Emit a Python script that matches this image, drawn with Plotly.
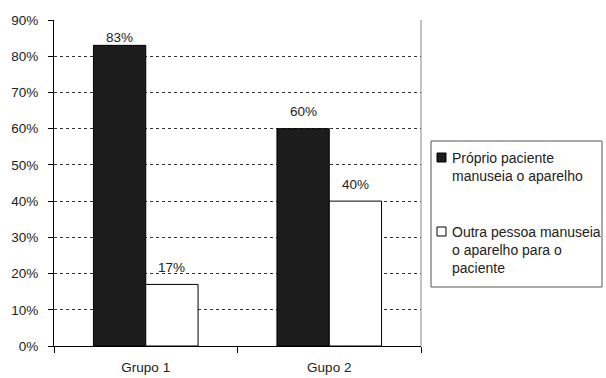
import plotly.graph_objects as go

categories = ["Grupo 1", "Gupo 2"]
proprio = [83, 60]
outra = [17, 40]
series_names = ["Próprio paciente<br>manuseia o aparelho",
                "Outra pessoa manuseia<br>o aparelho para o<br>paciente"]
y_ticks = [0, 10, 20, 30, 40, 50, 60, 70, 80, 90]

W, H = 606, 378
ML, MR, MT, MB = 54, 185, 20, 32
PW = W - ML - MR
PH = H - MT - MB


def px(x):
    # pixel column -> paper x
    return (x - ML) / PW


def py(y):
    # pixel row -> paper y
    return (H - MB - y) / PH


axis_font = dict(family="Liberation Sans, Arial, sans-serif", size=13.5, color="#222")
legend_font = dict(family="Liberation Sans, Arial, sans-serif", size=14, color="#222")

fig = go.Figure()
fig.add_trace(go.Bar(
    x=categories, y=proprio, name=series_names[0],
    marker=dict(color="#1c1c1c", line=dict(color="#000", width=1)),
))
fig.add_trace(go.Bar(
    x=categories, y=outra, name=series_names[1],
    marker=dict(color="#ffffff", line=dict(color="#000", width=1)),
))

bargap = 0.43
half = (1 - bargap) / 4  # offset of each bar's centre from the category centre
annotations = []
for i, cat in enumerate(categories):
    for vals, sign in ((proprio, -1), (outra, 1)):
        v = vals[i]
        annotations.append(dict(
            x=i + sign * half, y=v, xref="x", yref="y",
            text=f"{v}%", showarrow=False, yanchor="middle",
            yshift=8 if v > 80 else 17, font=axis_font,
        ))

# legend box drawn in paper space
shapes = [
    dict(type="line", xref="paper", yref="paper", x0=1, x1=1, y0=0, y1=1,
         line=dict(color="#888", width=1)),
    dict(type="rect", xref="paper", yref="paper",
         x0=px(431), x1=px(602), y0=py(287), y1=py(141),
         line=dict(color="#555", width=1), fillcolor="white"),
    dict(type="rect", xref="paper", yref="paper",
         x0=px(437), x1=px(446), y0=py(162), y1=py(153),
         line=dict(color="#000", width=1), fillcolor="#1c1c1c"),
    dict(type="rect", xref="paper", yref="paper",
         x0=px(437), x1=px(446), y0=py(236), y1=py(227),
         line=dict(color="#000", width=1), fillcolor="white"),
]
annotations.append(dict(
    x=px(450), y=py(148), xref="paper", yref="paper", xanchor="left",
    yanchor="top", align="left", text=series_names[0], showarrow=False,
    font=legend_font,
))
annotations.append(dict(
    x=px(450), y=py(222), xref="paper", yref="paper", xanchor="left",
    yanchor="top", align="left", text=series_names[1], showarrow=False,
    font=legend_font,
))

fig.update_layout(
    width=W, height=H,
    margin=dict(l=ML, r=MR, t=MT, b=MB, autoexpand=False),
    paper_bgcolor="white", plot_bgcolor="white",
    font=axis_font,
    barmode="group", bargap=bargap, bargroupgap=0,
    showlegend=False,
    xaxis=dict(
        showline=True, linecolor="#000", linewidth=1,
        ticks="outside", tickson="boundaries", ticklen=6, tickcolor="#000",
        showgrid=False, tickfont=axis_font, ticklabelstandoff=9,
    ),
    yaxis=dict(
        range=[0, 90], tickvals=y_ticks,
        ticktext=[f"{v}%" for v in y_ticks],
        showline=True, linecolor="#000", linewidth=1,
        ticks="outside", ticklen=5, tickcolor="#000",
        showgrid=True, gridcolor="#333", griddash="dot", gridwidth=1,
        zeroline=False, tickfont=axis_font, ticklabelstandoff=7,
    ),
    shapes=shapes,
    annotations=annotations,
)

fig.write_html("out.html")
